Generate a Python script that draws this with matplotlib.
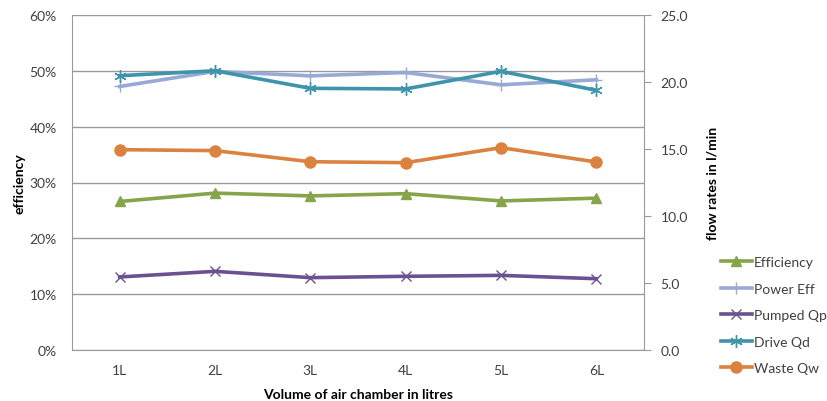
import matplotlib
matplotlib.use("Agg")
import matplotlib.pyplot as plt
from matplotlib.ticker import FuncFormatter

# data
volumes = ["1L", "2L", "3L", "4L", "5L", "6L"]
efficiency = [26.6, 28.1, 27.6, 28.0, 26.7, 27.2]      # % (left axis)
power_eff = [47.2, 49.9, 49.1, 49.7, 47.5, 48.4]       # % (left axis)
pumped_qp = [5.45, 5.87, 5.40, 5.50, 5.57, 5.32]       # l/min (right axis)
drive_qd = [20.47, 20.84, 19.53, 19.48, 20.80, 19.38]  # l/min (right axis)
waste_qw = [14.95, 14.88, 14.05, 13.98, 15.10, 14.03]  # l/min (right axis)

plt.rcParams["font.family"] = ["Lato", "DejaVu Sans"]
text_col = "#404040"
grid_col = "#999999"
fs = 10

fig = plt.figure(figsize=(8.27, 4.02), dpi=100)
ax = fig.add_axes([72 / 827, 51 / 402, 572 / 827, 335 / 402])
ax2 = ax.twinx()

x = list(range(len(volumes)))

ax.plot(x, efficiency, color="#86A44A", lw=2.6, marker="^", ms=7, label="Efficiency")
ax.plot(x, power_eff, color="#98AAD4", lw=2.6, marker="+", ms=9, mew=1.0, label="Power Eff")
ax2.plot(x, pumped_qp, color="#6B5192", lw=2.6, marker="x", ms=7, mew=1.0, label="Pumped Qp")
ax2.plot(x, drive_qd, color="#3E94AB", lw=2.6, marker=(6, 2, 0), ms=9, mew=1.0, label="Drive Qd")
ax2.plot(x, waste_qw, color="#DB8240", lw=2.6, marker="o", ms=8, label="Waste Qw")

ax.set_xlim(-0.5, len(volumes) - 0.5)
ax.set_ylim(0, 60)
ax2.set_ylim(0, 25)
ax.set_yticks(range(0, 61, 10))
ax2.set_yticks([0, 5, 10, 15, 20, 25])
ax.yaxis.set_major_formatter(FuncFormatter(lambda v, p: f"{v:.0f}%"))
ax2.yaxis.set_major_formatter(FuncFormatter(lambda v, p: f"{v:.1f}"))
ax.set_xticks(x)
ax.set_xticklabels(volumes)

ax.grid(axis="y", color=grid_col, lw=1.0)
ax.set_axisbelow(True)

for a in (ax, ax2):
    for s in a.spines.values():
        s.set_visible(False)
ax.spines["left"].set_visible(True)
ax.spines["left"].set_color(grid_col)
ax.spines["bottom"].set_visible(True)
ax.spines["bottom"].set_color(grid_col)
ax2.spines["right"].set_visible(True)
ax2.spines["right"].set_color(grid_col)

ax.tick_params(axis="y", length=0, pad=11, labelsize=fs, labelcolor=text_col)
ax.tick_params(axis="x", length=0, pad=10, labelsize=fs, labelcolor=text_col)
ax2.tick_params(axis="y", length=5, color=grid_col, pad=7, labelsize=fs, labelcolor=text_col)

ax.set_ylabel("efficiency", fontsize=fs, fontweight="bold", color="black", labelpad=3)
ax2.set_ylabel("flow rates in l/min", fontsize=fs, fontweight="bold", color="black", labelpad=13)
ax.set_xlabel("Volume of air chamber in litres", fontsize=fs, fontweight="bold", color="black", labelpad=9)

h1, l1 = ax.get_legend_handles_labels()
h2, l2 = ax2.get_legend_handles_labels()
fig.legend(h1 + h2, l1 + l2, loc="upper left", bbox_to_anchor=(721 / 827, 1 - 257 / 402),
           frameon=False, fontsize=fs, handlelength=2.2, handletextpad=0.15,
           borderpad=0, borderaxespad=0, labelspacing=1.05, labelcolor=text_col)

fig.savefig("out.png", dpi=100)
